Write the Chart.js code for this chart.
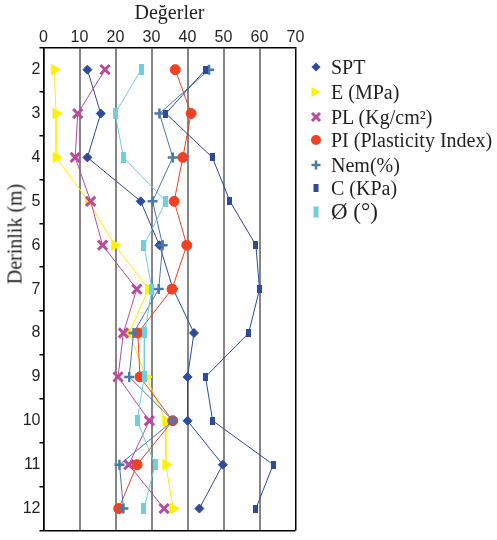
<!DOCTYPE html>
<html lang="tr">
<head>
    <meta charset="UTF-8">
    <title>Derinlik - Değerler</title>
    <script src="https://cdn.jsdelivr.net/npm/chart.js"></script>
    <style>
        body {
            margin: 0;
            background: white;
        }
        .wrap {
            position: relative;
            width: 497px;
            height: 540px;
        }
        #ytitle {
            position: absolute;
            left: 15px;
            top: 234px;
            transform: translate(-50%, -50%) rotate(-90deg);
            font-family: 'Liberation Serif', serif;
            font-size: 20px;
            color: #231f20;
            white-space: nowrap;
        }
        .legend-item {
            position: absolute;
            left: 306px;
            height: 24px;
            line-height: 24px;
            font-family: 'Liberation Serif', serif;
            font-size: 20px;
            color: #231f20;
            white-space: nowrap;
        }
        .legend-item svg {
            position: absolute;
            left: 0;
            top: 0;
        }
        .legend-item span {
            position: absolute;
            left: 25px;
            top: 0;
        }
    </style>
</head>
<body>
    <div class="wrap">
        <canvas id="chart" width="497" height="540"></canvas>
        <div id="ytitle">Derinlik (m)</div>
        <div id="legend"></div>
    </div>

    <script>
        // derinlik (m)
        const depths = [2, 3, 4, 5, 6, 7, 8, 9, 10, 11, 12];

        // okunan degerler
        const spt = [12.2, 15.9, 12.2, 27, 32.2, 36, 41.8, 40, 40, 49.8, 43.3];
        const eMpa = [3, 3.5, 3.5, 12.5, 19.8, 29.2, 23.8, 28.5, 34, 34, 36];
        const pl = [17.1, 9.5, 8.8, 13.1, 16.4, 25.9, 22.2, 20.7, 29.4, 23.7, 33.5];
        const pi = [36.6, 41, 38.7, 36.3, 39.8, 35.7, 26.2, 26.8, 35.9, 26, 20.9];
        const nem = [46, 32.2, 35.9, 30.3, 33.1, 32, 25, 23.8, 36, 21.1, 22.2];
        const cKpa = [45, 34, 46.9, 51.8, 59, 60, 57, 45, 47, 63.8, 59];
        const phi = [27.1, 19.9, 22.2, 34, 27.9, 30.1, 28.1, 28, 26, 31, 27.9];

        const seriesNames = ["SPT", "E (MPa)", "PL (Kg/cm²)", "PI (Plasticity Index)", "Nem(%)", "C (KPa)", "Ø (°)"];
        const xTicksMax = 70;

        function rectImg(w, h, color) {
            const c = document.createElement("canvas");
            c.width = w;
            c.height = h;
            const g = c.getContext("2d");
            g.fillStyle = color;
            g.fillRect(0, 0, w, h);
            return c;
        }

        const styles = [
            { color: "#2d4a9c", pointStyle: "rectRot", radius: 4.5, bw: 1 },
            { color: "#fff000", pointStyle: "triangle", radius: 6, rotation: 90, bw: 1 },
            { color: "#b94a9e", pointStyle: "crossRot", radius: 6.5, bw: 3 },
            { color: "#ef4123", pointStyle: "circle", radius: 5, bw: 1 },
            { color: "#4a78a8", pointStyle: "cross", radius: 5, bw: 2.5 },
            { color: "#2d4a9c", pointStyle: rectImg(5, 8, "#2d4a9c"), radius: 4, bw: 1 },
            { color: "#6fcfdf", pointStyle: rectImg(5, 11, "#6fcfdf"), radius: 5, bw: 1 }
        ];

        const allSeries = [spt, eMpa, pl, pi, nem, cKpa, phi];

        const datasets = allSeries.map((vals, i) => ({
            label: seriesNames[i],
            data: vals.map((v, j) => ({ x: v, y: depths[j] })),
            showLine: true,
            borderColor: styles[i].color,
            backgroundColor: styles[i].color,
            borderWidth: 1,
            pointStyle: styles[i].pointStyle,
            pointRadius: styles[i].radius,
            pointRotation: styles[i].rotation || 0,
            pointBorderWidth: styles[i].bw,
            pointBorderColor: styles[i].color,
            pointBackgroundColor: styles[i].color,
            order: 10 - i
        }));

        new Chart(document.getElementById("chart"), {
            type: "scatter",
            data: { datasets: datasets },
            options: {
                responsive: false,
                animation: false,
                layout: { padding: { left: 0, top: 0, right: 201.5, bottom: 1 } },
                plugins: {
                    legend: { display: false },
                    tooltip: { enabled: false }
                },
                scales: {
                    x: {
                        type: "linear",
                        position: "top",
                        min: 0,
                        max: xTicksMax,
                        afterFit: s => { s.height = 47.7; },
                        ticks: {
                            stepSize: 10,
                            padding: 1,
                            color: "#231f20",
                            font: { family: "'Liberation Sans', Arial, sans-serif", size: 16 }
                        },
                        grid: {
                            drawTicks: false,
                            color: ctx => (ctx.tick && (ctx.tick.value === 0 || ctx.tick.value === xTicksMax)) ? "#000" : "#858585",
                            lineWidth: ctx => (ctx.tick && (ctx.tick.value === 0 || ctx.tick.value === xTicksMax)) ? 1.5 : 2
                        },
                        border: { color: "#000", width: 1.5 },
                        title: {
                            display: true,
                            text: "Değerler",
                            color: "#231f20",
                            padding: { top: 2, bottom: 0 },
                            font: { family: "'Liberation Serif', serif", size: 20 }
                        }
                    },
                    y: {
                        type: "linear",
                        reverse: true,
                        min: 1.5,
                        max: 12.5,
                        afterFit: s => { s.width = 43.5; },
                        ticks: {
                            stepSize: 0.5,
                            autoSkip: false,
                            padding: -1,
                            color: "#231f20",
                            font: { family: "'Liberation Sans', Arial, sans-serif", size: 16 },
                            callback: v => Number.isInteger(v) ? v : ""
                        },
                        grid: {
                            drawOnChartArea: true,
                            tickLength: 4,
                            lineWidth: 1.5,
                            color: ctx => (ctx.tick && ctx.tick.value === 12.5) ? "#000" : "rgba(0,0,0,0)",
                            tickColor: ctx => (ctx.tick && Number.isInteger(ctx.tick.value)) ? "rgba(0,0,0,0)" : "#000"
                        },
                        border: { color: "#000", width: 1.5 }
                    }
                }
            }
        });

        // legend
        const legendRows = [66.7, 91.7, 116.7, 140, 165, 188, 212];
        const markers = [
            '<polygon points="10,7.5 14.5,12 10,16.5 5.5,12" fill="#2d4a9c"/>',
            '<polygon points="5.5,7 14.5,12 5.5,17" fill="#fff000"/>',
            '<g stroke="#b94a9e" stroke-width="3"><line x1="6" y1="8" x2="14" y2="16"/><line x1="14" y1="8" x2="6" y2="16"/></g>',
            '<circle cx="10" cy="12" r="5" fill="#ef4123"/>',
            '<g stroke="#4a78a8" stroke-width="2.5"><line x1="5.5" y1="12" x2="14.5" y2="12"/><line x1="10" y1="7.5" x2="10" y2="16.5"/></g>',
            '<rect x="7.5" y="8" width="5" height="8" fill="#2d4a9c"/>',
            '<rect x="7.5" y="6.5" width="5" height="11" fill="#6fcfdf"/>'
        ];
        const legend = document.getElementById("legend");
        seriesNames.forEach((name, i) => {
            const div = document.createElement("div");
            div.className = "legend-item";
            div.style.top = (legendRows[i] - 12) + "px";
            if (i === 6) div.style.fontSize = "23px";
            div.innerHTML = '<svg width="20" height="24">' + markers[i] + '</svg><span>' + name + '</span>';
            legend.appendChild(div);
        });
    </script>
</body>
</html>
